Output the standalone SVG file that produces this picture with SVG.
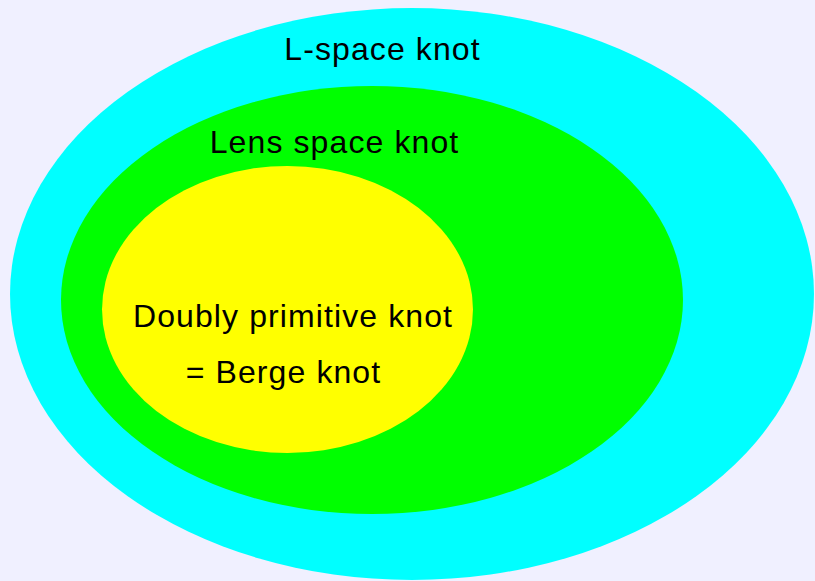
<svg xmlns="http://www.w3.org/2000/svg" width="815" height="581" viewBox="0 0 815 581">
<style>
text{font-family:"Liberation Sans",Arial,sans-serif;font-size:32px;fill:#000;text-anchor:middle;letter-spacing:1.1px}
</style>
<rect width="815" height="581" fill="#f0f0ff"/>
<g id="lspace"><ellipse cx="412" cy="294" rx="402" ry="286" fill="#00ffff"/><text x="382.5" y="60">L-space knot</text></g>
<g id="lens"><ellipse cx="372" cy="300" rx="311" ry="214" fill="#00ff00"/><text x="334.5" y="153">Lens space knot</text></g>
<g id="berge"><ellipse cx="287.5" cy="309.5" rx="185.5" ry="143.5" fill="#ffff00"/><text x="293" y="327">Doubly primitive knot</text><text x="283.5" y="383">= Berge knot</text></g>
</svg>
